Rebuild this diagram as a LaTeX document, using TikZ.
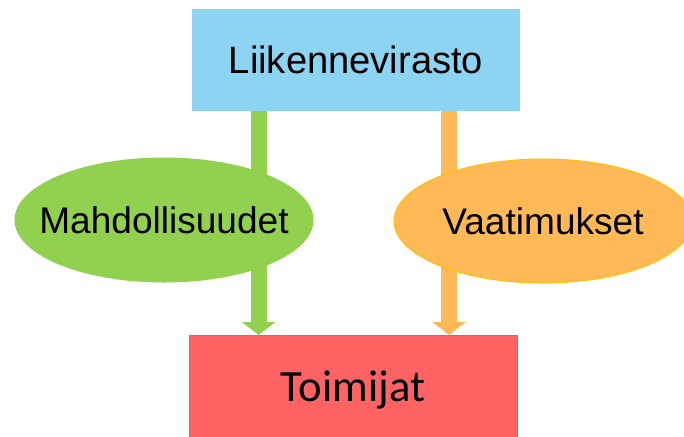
\documentclass[tikz,border=0pt]{standalone}
\usepackage{fontspec}
\setmainfont{Liberation Sans}
\newfontfamily\calfont{Carlito}
\usetikzlibrary{shapes.geometric,arrows.meta}
\definecolor{topblue}{HTML}{8CD4F1}
\definecolor{redbox}{HTML}{FF6363}
\definecolor{redline}{HTML}{FF5252}
\definecolor{greenf}{HTML}{92D050}
\definecolor{orangef}{HTML}{FFB957}
\definecolor{orangel}{HTML}{FFC000}
\tikzset{
  boxnode/.style={rectangle, minimum width=246pt, minimum height=76.5pt, inner sep=0pt},
  ellnode/.style={ellipse, minimum width=223.5pt, minimum height=93pt, inner xsep=-40pt, inner ysep=0pt, line width=0.75pt, font=\fontsize{27.8}{32}\selectfont},
  bararrow/.style={line width=12pt, -{Triangle[width=24.75pt,length=9.75pt]}}
}
\begin{document}
\begin{tikzpicture}[x=0.75pt, y=-0.75pt]
\useasboundingbox (0,0) rectangle (684,436);
\clip (0,0) rectangle (684,436);
\fill[white] (0,0) rectangle (684,436);
\node[boxnode, fill=topblue, font=\fontsize{28.6}{32}\selectfont] (top) at (356,60) {Liikennevirasto};
\node[boxnode, fill=redbox, draw=redline, line width=0.75pt, font=\calfont\fontsize{33.5}{38}\selectfont, text height=22pt, text depth=0pt] (bot) at (353,386.5) {Toimijat};
\coordinate (gx) at (258.7,0);
\coordinate (ox) at (449,0);
\draw[bararrow, greenf] (top.south -| gx) -- (bot.north -| gx);
\draw[bararrow, orangef] (top.south -| ox) -- (bot.north -| ox);
\node[ellnode, fill=greenf, draw=greenf] (mah) at (164,220) {Mahdollisuudet};
\node[ellnode, fill=orangef, draw=orangel] (vaa) at (543,221) {Vaatimukset};
\end{tikzpicture}
\end{document}
